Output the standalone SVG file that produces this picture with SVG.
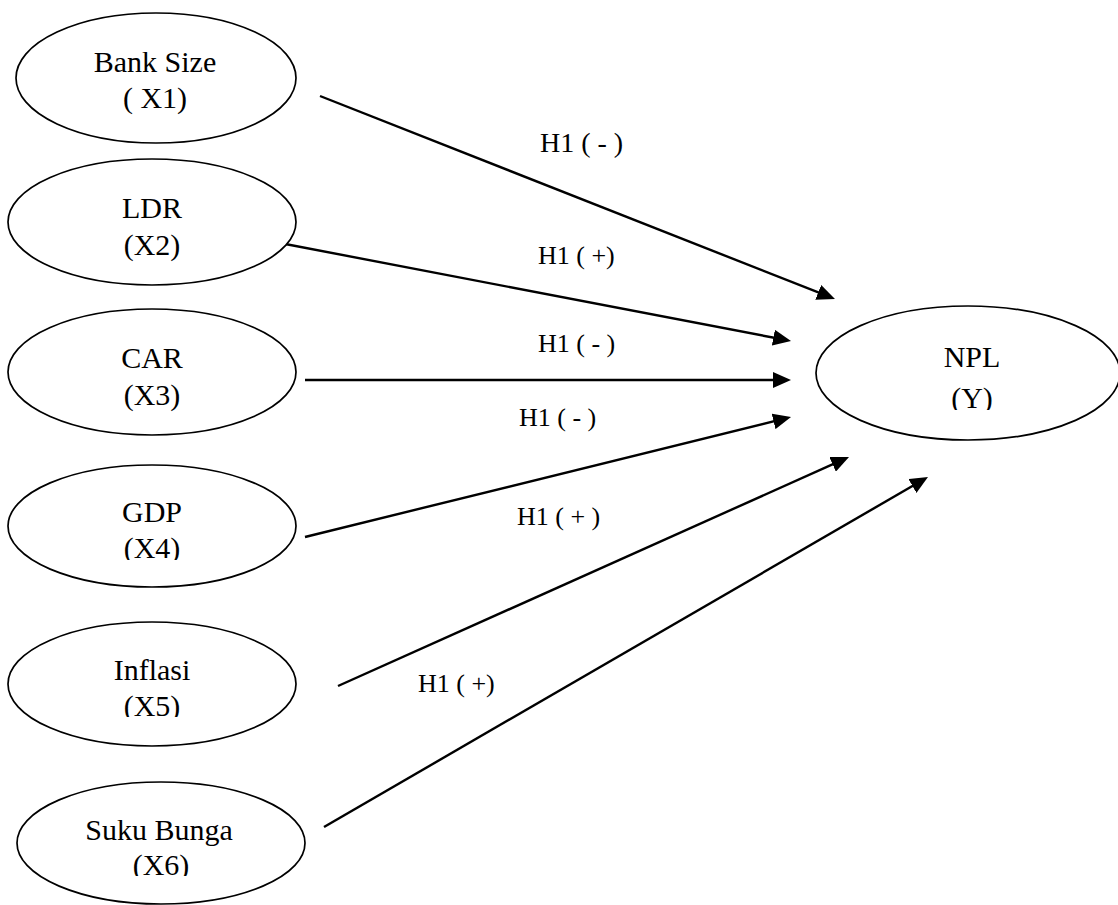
<svg xmlns="http://www.w3.org/2000/svg" width="1118" height="905" viewBox="0 0 1118 905">
<style>
  .node { fill: #ffffff; stroke: #000000; stroke-width: 1.7; }
  .nt { font-family: "Liberation Serif", "Times New Roman", serif; font-size: 30px; fill: #000000; text-anchor: middle; }
  .lbl { font-family: "Liberation Serif", "Times New Roman", serif; font-size: 26px; fill: #000000; }
  .edge { fill: none; stroke: #000000; stroke-width: 2.4; marker-end: url(#arrow); }
</style>
<defs>
  <marker id="arrow" markerUnits="userSpaceOnUse" markerWidth="18" markerHeight="16" refX="9" refY="8" orient="auto">
    <path d="M0,0 L18,8 L0,16 z" fill="#000000"/>
  </marker>
  <clipPath id="clipX4"><rect x="0" y="440" width="320" height="120"/></clipPath>
  <clipPath id="clipX5"><rect x="0" y="600" width="320" height="117"/></clipPath>
  <clipPath id="clipX6"><rect x="0" y="760" width="320" height="116"/></clipPath>
  <clipPath id="clipY"><rect x="800" y="300" width="318" height="110"/></clipPath>
</defs>
<rect width="1118" height="905" fill="#ffffff"/>

<g id="connectors">
  <path class="edge" d="M320,96 L826.6,295.7"/>
  <path class="edge" d="M280,243 L782.2,339.3"/>
  <path class="edge" d="M305,380 L782,380"/>
  <path class="edge" d="M305,537 L782.3,419.2"/>
  <path class="edge" d="M338,686 L840.8,460.7"/>
  <path class="edge" d="M324,827 L920.2,481.5"/>
  <text class="lbl" x="540" y="152" style="font-size:28px">H1 ( - )</text>
  <text class="lbl" x="538" y="264">H1 ( +)</text>
  <text class="lbl" x="538" y="352">H1 ( - )</text>
  <text class="lbl" x="519" y="426">H1 ( - )</text>
  <text class="lbl" x="517" y="525">H1 ( + )</text>
  <text class="lbl" x="418" y="692">H1 ( +)</text>
</g>

<g id="node-x1">
  <ellipse class="node" cx="156" cy="78" rx="140" ry="65"/>
  <text class="nt" x="155" y="72">Bank Size</text>
  <text class="nt" x="155" y="108">( X1)</text>
</g>
<g id="node-x2">
  <ellipse class="node" cx="152" cy="222" rx="144" ry="63"/>
  <text class="nt" x="152" y="218">LDR</text>
  <text class="nt" x="152" y="255">(X2)</text>
</g>
<g id="node-x3">
  <ellipse class="node" cx="152" cy="372" rx="144" ry="63"/>
  <text class="nt" x="152" y="368">CAR</text>
  <text class="nt" x="152" y="405">(X3)</text>
</g>
<g id="node-x4">
  <ellipse class="node" cx="152" cy="526" rx="144" ry="61"/>
  <g clip-path="url(#clipX4)">
    <text class="nt" x="152" y="522">GDP</text>
    <text class="nt" x="152" y="558">(X4)</text>
  </g>
</g>
<g id="node-x5">
  <ellipse class="node" cx="152" cy="684" rx="144" ry="62"/>
  <g clip-path="url(#clipX5)">
    <text class="nt" x="152" y="680">Inflasi</text>
    <text class="nt" x="152" y="716">(X5)</text>
  </g>
</g>
<g id="node-x6">
  <ellipse class="node" cx="161" cy="843" rx="144" ry="61"/>
  <g clip-path="url(#clipX6)">
    <text class="nt" x="159" y="840">Suku Bunga</text>
    <text class="nt" x="161" y="875">(X6)</text>
  </g>
</g>
<g id="node-y">
  <ellipse class="node" cx="968" cy="373" rx="152" ry="67"/>
  <g clip-path="url(#clipY)">
    <text class="nt" x="972" y="367">NPL</text>
    <text class="nt" x="972" y="408">(Y)</text>
  </g>
</g>
</svg>
